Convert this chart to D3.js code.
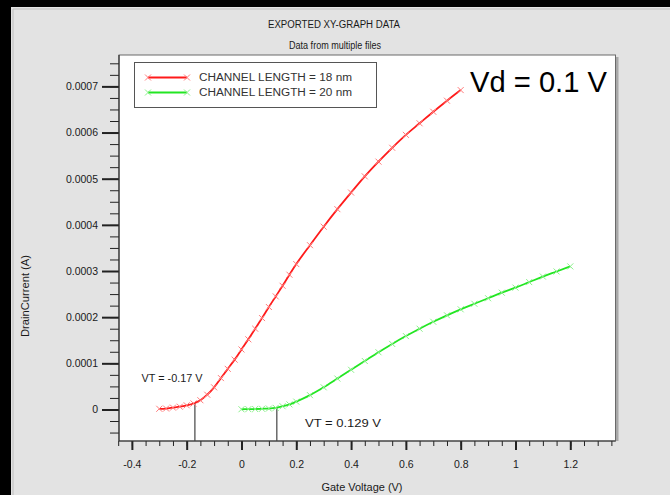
<!DOCTYPE html>
<html>
<head>
<meta charset="utf-8">
<script src="https://cdn.jsdelivr.net/npm/d3@7/dist/d3.min.js"></script>
<style>
  html, body { margin: 0; padding: 0; background: #e3e3e3; width: 670px; height: 495px; overflow: hidden; }
  svg { display: block; font-family: "Liberation Sans", Arial, sans-serif; }
</style>
</head>
<body>
<svg id="chart" width="670" height="495"></svg>
<script>
// ---------------- data ----------------
const title = "EXPORTED XY-GRAPH DATA";
const subtitle = "Data from multiple files";
const xLabel = "Gate Voltage (V)";
const yLabel = "DrainCurrent (A)";
const seriesNames = ["CHANNEL LENGTH = 18 nm", "CHANNEL LENGTH = 20 nm"];
const seriesColors = ["#ff1a1a", "#22e622"];
const markerColors = ["#ff7c7c", "#8af08a"];

// 18 nm channel (red)
const vg18 = [-0.3, -0.275, -0.25, -0.225, -0.2, -0.175, -0.15, -0.125, -0.1, -0.075, -0.05, -0.025,
              0, 0.025, 0.05, 0.075, 0.1, 0.125, 0.15, 0.175, 0.2, 0.25, 0.3, 0.35, 0.4, 0.45,
              0.5, 0.55, 0.6, 0.65, 0.7, 0.75, 0.8];
const id18 = [0.0000015, 0.000002, 0.000004, 0.000006, 0.000009, 0.000013, 0.00002, 0.000032, 0.000048,
              0.000068, 0.000088, 0.000108, 0.00013, 0.000152, 0.000175, 0.000198, 0.000222, 0.000245,
              0.000268, 0.000292, 0.000315, 0.000356, 0.000396, 0.000434, 0.00047, 0.000505,
              0.000537, 0.000567, 0.000595, 0.00062, 0.000645, 0.000669, 0.000692];

// 20 nm channel (green)
const vg20 = [0, 0.025, 0.05, 0.075, 0.1, 0.125, 0.15, 0.175, 0.2, 0.25, 0.3, 0.35, 0.4, 0.45, 0.5,
              0.55, 0.6, 0.65, 0.7, 0.75, 0.8, 0.85, 0.9, 0.95, 1.0, 1.05, 1.1, 1.15, 1.2];
const id20 = [0.0000005, 0.0000007, 0.000001, 0.0000015, 0.000002, 0.0000035, 0.000007, 0.000011, 0.000017,
              0.000031, 0.000048, 0.000067, 0.000086, 0.000105, 0.000124, 0.000142, 0.000159,
              0.000175, 0.00019, 0.000204, 0.000217, 0.000229, 0.000241, 0.000253, 0.000264,
              0.000276, 0.000288, 0.000299, 0.00031];

const vtValues = [-0.17, 0.129];
const vtLabels = ["VT = -0.17 V", "VT = 0.129 V"];
const annotation = "Vd = 0.1 V";

const xMajorTicks = [-0.4, -0.2, 0, 0.2, 0.4, 0.6, 0.8, 1, 1.2];
const xTickLabels = ["-0.4", "-0.2", "0", "0.2", "0.4", "0.6", "0.8", "1", "1.2"];
const yMajorTicks = [0, 0.0001, 0.0002, 0.0003, 0.0004, 0.0005, 0.0006, 0.0007];
const yTickLabels = ["0", "0.0001", "0.0002", "0.0003", "0.0004", "0.0005", "0.0006", "0.0007"];
const xMinorTicks = d3.range(-45, 136, 5).map(d => d / 100);
const yMinorTicks = d3.range(-2, 31).map(d => d * 0.000025);

// ---------------- layout ----------------
const svg = d3.select("#chart");
const W = 670, H = 495;
const plot = { left: 119, top: 55, right: 615.5, bottom: 441 };

const x = d3.scaleLinear().domain([-0.447, 1.365]).range([plot.left, plot.right]);
const y = d3.scaleLinear().domain([-0.0000683, 0.000768]).range([plot.bottom, plot.top]);

// background & frame
svg.append("rect").attr("width", W).attr("height", H).attr("fill", "#e3e3e3");
svg.append("rect").attr("x", 0).attr("y", 0).attr("width", W).attr("height", 7).attr("fill", "#000");
svg.append("rect").attr("x", 0).attr("y", 0).attr("width", 11).attr("height", H).attr("fill", "#000");
svg.append("line").attr("x1", 13).attr("x2", 13).attr("y1", 9).attr("y2", H).attr("stroke", "#bdbdbd");
svg.append("line").attr("x1", 13).attr("x2", W).attr("y1", 9).attr("y2", 9).attr("stroke", "#bdbdbd");

// plot area
svg.append("rect").attr("x", plot.right).attr("y", plot.top + 2).attr("width", 3)
  .attr("height", plot.bottom - plot.top - 2).attr("fill", "#a8a8a8");
svg.append("rect").attr("x", plot.left).attr("y", plot.top)
  .attr("width", plot.right - plot.left).attr("height", plot.bottom - plot.top)
  .attr("fill", "#fff").attr("stroke", "#6a6a6a").attr("stroke-width", 1);

// titles
svg.append("text").attr("x", 334).attr("y", 27.5).attr("text-anchor", "middle")
  .attr("font-size", 10).attr("fill", "#1a1a1a").attr("textLength", 132).attr("lengthAdjust", "spacingAndGlyphs")
  .text(title);
svg.append("text").attr("x", 335).attr("y", 48.5).attr("text-anchor", "middle")
  .attr("font-size", 10).attr("fill", "#1a1a1a").attr("textLength", 92).attr("lengthAdjust", "spacingAndGlyphs")
  .text(subtitle);

// axes
const gx = svg.append("g").attr("transform", `translate(0,${plot.bottom})`);
gx.call(d3.axisBottom(x).tickValues(xMinorTicks).tickSize(5).tickFormat(""));
gx.call(g => g.select(".domain").remove());
const gxMaj = svg.append("g").attr("transform", `translate(0,${plot.bottom})`);
gxMaj.call(d3.axisBottom(x).tickValues(xMajorTicks).tickSize(9).tickPadding(11)
  .tickFormat((d, i) => xTickLabels[i]));
gxMaj.select(".domain").remove();
gxMaj.selectAll(".tick line").attr("stroke-width", 2);
gxMaj.selectAll(".tick text").attr("font-size", 10.5).attr("fill", "#1a1a1a")
  .attr("font-family", "'Liberation Sans', Arial, sans-serif");
gx.selectAll(".tick line").attr("stroke", "#222");
gxMaj.selectAll(".tick line").attr("stroke", "#222");

const gy = svg.append("g").attr("transform", `translate(${plot.left},0)`);
gy.call(d3.axisLeft(y).tickValues(yMinorTicks).tickSize(9).tickFormat(""));
gy.select(".domain").remove();
const gyMaj = svg.append("g").attr("transform", `translate(${plot.left},0)`);
gyMaj.call(d3.axisLeft(y).tickValues(yMajorTicks).tickSize(17).tickPadding(4)
  .tickFormat((d, i) => yTickLabels[i]));
gyMaj.select(".domain").remove();
gyMaj.selectAll(".tick line").attr("stroke-width", 2);
gyMaj.selectAll(".tick text").attr("font-size", 10.5).attr("fill", "#1a1a1a")
  .attr("font-family", "'Liberation Sans', Arial, sans-serif");
gy.selectAll(".tick line").attr("stroke", "#222");
gyMaj.selectAll(".tick line").attr("stroke", "#222");

// axis lines (drawn over ticks)
svg.append("line").attr("x1", plot.left).attr("x2", plot.right).attr("y1", plot.bottom).attr("y2", plot.bottom)
  .attr("stroke", "#333").attr("stroke-width", 1.2);
svg.append("line").attr("x1", plot.left).attr("x2", plot.left).attr("y1", plot.top).attr("y2", plot.bottom)
  .attr("stroke", "#333").attr("stroke-width", 1.2);

// axis labels
svg.append("text").attr("x", 362).attr("y", 490.5).attr("text-anchor", "middle")
  .attr("font-size", 10).attr("fill", "#1a1a1a").attr("textLength", 81).attr("lengthAdjust", "spacingAndGlyphs")
  .text(xLabel);
svg.append("text").attr("transform", "translate(28.5,296) rotate(-90)").attr("text-anchor", "middle")
  .attr("font-size", 10).attr("fill", "#1a1a1a").attr("textLength", 82).attr("lengthAdjust", "spacingAndGlyphs")
  .text(yLabel);

// VT lines
const seriesData = [
  vg18.map((v, i) => [v, id18[i]]),
  vg20.map((v, i) => [v, id20[i]])
];
function interp(data, v) {
  for (let i = 1; i < data.length; i++) {
    if (data[i][0] >= v) {
      const t = (v - data[i - 1][0]) / (data[i][0] - data[i - 1][0]);
      return data[i - 1][1] + t * (data[i][1] - data[i - 1][1]);
    }
  }
  return data[data.length - 1][1];
}
vtValues.forEach((v, i) => {
  svg.append("line").attr("x1", x(v)).attr("x2", x(v))
    .attr("y1", y(interp(seriesData[i], v))).attr("y2", plot.bottom)
    .attr("stroke", "#444").attr("stroke-width", 1.2);
});
svg.append("text").attr("x", 141.5).attr("y", 382).attr("font-size", 10).attr("fill", "#1a1a1a")
  .attr("textLength", 61).attr("lengthAdjust", "spacingAndGlyphs").text(vtLabels[0]);
svg.append("text").attr("x", 305).attr("y", 427).attr("font-size", 10).attr("fill", "#1a1a1a")
  .attr("textLength", 76).attr("lengthAdjust", "spacingAndGlyphs").text(vtLabels[1]);

// series lines
const line = d3.line().x(d => x(d[0])).y(d => y(d[1])).curve(d3.curveMonotoneX);
seriesData.forEach((data, i) => {
  svg.append("path").datum(data).attr("d", line).attr("fill", "none")
    .attr("stroke", seriesColors[i]).attr("stroke-width", 1.8);
  const m = svg.append("g");
  data.forEach(d => {
    const cx = x(d[0]), cy = y(d[1]), s = 3;
    m.append("path").attr("d", `M${cx - s},${cy - s}L${cx + s},${cy + s}M${cx - s},${cy + s}L${cx + s},${cy - s}`)
      .attr("stroke", markerColors[i]).attr("stroke-width", 1);
  });
});

// legend
svg.append("rect").attr("x", 134.5).attr("y", 62.5).attr("width", 242).attr("height", 45)
  .attr("fill", "#fff").attr("stroke", "#555").attr("stroke-width", 1);
[77.5, 92.5].forEach((ly, i) => {
  svg.append("line").attr("x1", 148).attr("x2", 187).attr("y1", ly).attr("y2", ly)
    .attr("stroke", seriesColors[i]).attr("stroke-width", 1.8);
  [148, 187].forEach(lx => {
    const s = 3;
    svg.append("path").attr("d", `M${lx - s},${ly - s}L${lx + s},${ly + s}M${lx - s},${ly + s}L${lx + s},${ly - s}`)
      .attr("stroke", markerColors[i]).attr("stroke-width", 1);
  });
  svg.append("text").attr("x", 199).attr("y", ly + 3.5).attr("font-size", 10).attr("fill", "#333")
    .attr("textLength", 153).attr("lengthAdjust", "spacingAndGlyphs").text(seriesNames[i]);
});

// Vd annotation
svg.append("text").attr("x", 470).attr("y", 91.5).attr("font-size", 30).attr("fill", "#000")
  .attr("textLength", 137).attr("lengthAdjust", "spacingAndGlyphs").text(annotation);
</script>
</body>
</html>
